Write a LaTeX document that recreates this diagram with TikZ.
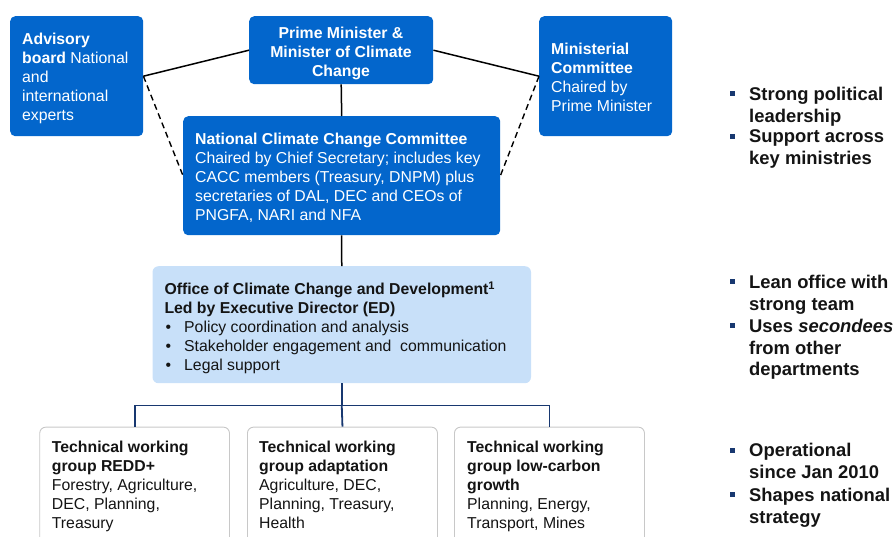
\documentclass[tikz,border=0pt]{standalone}
\usepackage{fontspec}
\setmainfont{Liberation Sans}
\definecolor{boxblue}{RGB}{3,102,204}
\definecolor{lightblue}{RGB}{200,224,249}
\definecolor{boxgray}{RGB}{200,200,200}
\definecolor{navyline}{RGB}{24,56,112}
\definecolor{txtdark}{RGB}{20,20,20}
\tikzset{
  darkbox/.style={fill=boxblue, rounded corners=5pt, inner sep=0pt, anchor=north west},
  lightbox/.style={fill=lightblue, rounded corners=6pt, inner sep=0pt, anchor=north west},
  twgbox/.style={draw=boxgray, line width=0.9pt, fill=white, rounded corners=6pt, inner sep=0pt, anchor=north west},
  boxtext/.style={font=\fontsize{15.8}{19}\selectfont, align=left, inner sep=0pt, anchor=north west},
  sidetext/.style={font=\fontsize{18.4}{21.7}\selectfont\bfseries, text=txtdark, align=left, inner sep=0pt, anchor=north west},
  bulsq/.style={fill=navyline, minimum size=5pt, inner sep=0pt},
  solidcon/.style={line width=1.5pt, black},
  dashcon/.style={line width=1.4pt, black, dash pattern=on 6pt off 4pt},
  navycon/.style={line width=1.8pt, navyline}
}
\begin{document}
\begin{tikzpicture}[x=1pt, y=-1pt]
\useasboundingbox (0,0) rectangle (896,536);

% boxes
\node[darkbox, minimum width=133pt, minimum height=120pt] (adv) at (10,16) {};
\node[darkbox, minimum width=184pt, minimum height=68pt] (pm) at (249,16) {};
\node[darkbox, minimum width=133pt, minimum height=120pt] (min) at (539,16) {};
\node[darkbox, minimum width=317pt, minimum height=119pt] (nccc) at (183,116) {};
\node[lightbox, minimum width=378.5pt, minimum height=117pt] (off) at (152.3,266) {};
\node[twgbox, minimum width=189.7pt, minimum height=125pt] (tw1) at (39.3,426.7) {};
\node[twgbox, minimum width=190pt, minimum height=125pt] (tw2) at (247,426.7) {};
\node[twgbox, minimum width=190pt, minimum height=125pt] (tw3) at (454,426.7) {};

% box texts
\node[boxtext, text=white] (advt) at (22,32.7) {\textbf{Advisory}\\\textbf{board} National\\and\\international\\experts};
\node[boxtext, text=white, align=center, anchor=north, font=\fontsize{15.8}{19}\selectfont\bfseries] (pmt) at (341,26.7) {Prime Minister \&\\Minister of Climate\\Change};
\node[boxtext, text=white] (mint) at (551,42.7) {\textbf{Ministerial}\\\textbf{Committee}\\Chaired by\\Prime Minister};
\node[boxtext, text=white] (nccct) at (195,132.7) {\textbf{National Climate Change Committee}\\Chaired by Chief Secretary; includes key\\CACC members (Treasury, DNPM) plus\\secretaries of DAL, DEC and CEOs of\\PNGFA, NARI and NFA};
\node[boxtext, text=txtdark] (offt) at (164.3,281.4) {\textbf{Office of Climate Change and Development\textsuperscript{1}}\\\textbf{Led by Executive Director (ED)}\\\makebox[19.7pt][l]{\hspace{1pt}•}Policy coordination and analysis\\\makebox[19.7pt][l]{\hspace{1pt}•}Stakeholder engagement and\ \ communication\\\makebox[19.7pt][l]{\hspace{1pt}•}Legal support};
\node[boxtext, text=txtdark] (tw1t) at (51.7,441) {\textbf{Technical working}\\\textbf{group REDD+}\\Forestry, Agriculture,\\DEC, Planning,\\Treasury};
\node[boxtext, text=txtdark] (tw2t) at (259,441) {\textbf{Technical working}\\\textbf{group adaptation}\\Agriculture, DEC,\\Planning, Treasury,\\Health};
\node[boxtext, text=txtdark] (tw3t) at (467,441) {\textbf{Technical working}\\\textbf{group low-carbon}\\\textbf{growth}\\Planning, Energy,\\Transport, Mines};

% connectors
\draw[solidcon] (adv.east) -- (pm.west);
\draw[solidcon] (min.west) -- (pm.east);
\draw[dashcon] (adv.east) -- (nccc.west);
\draw[dashcon] (min.west) -- (nccc.east);
\draw[solidcon] (pm.south) -- (nccc.north);
\draw[solidcon] (nccc.south) -- (off.north);
\path (off.south) ++(0,22) coordinate (bar);
\draw[navycon] (off.south) -- (bar);
\draw[navycon] (tw1.north) |- (bar) -| (tw3.north);
\draw[navycon] (bar) -- (tw2.north);

% side notes
\node[bulsq] (b1) at (732.5,93) {};
\node[sidetext] (s1) at (749,86.8) {Strong political\\leadership};
\node[bulsq] (b2) at (732.5,136) {};
\node[sidetext] (s2) at (749,129.8) {Support across\\key ministries};
\node[bulsq] (b3) at (732.5,281) {};
\node[sidetext] (s3) at (749,274.8) {Lean office with\\strong team};
\node[bulsq] (b4) at (732.5,325) {};
\node[sidetext] (s4) at (749,318.8) {Uses \textit{secondees}\\from other\\departments};
\node[bulsq] (b5) at (732.5,450) {};
\node[sidetext] (s5) at (749,443.3) {Operational\\since Jan 2010};
\node[bulsq] (b6) at (732.5,494) {};
\node[sidetext] (s6) at (749,488) {Shapes national\\strategy};
\end{tikzpicture}
\end{document}
